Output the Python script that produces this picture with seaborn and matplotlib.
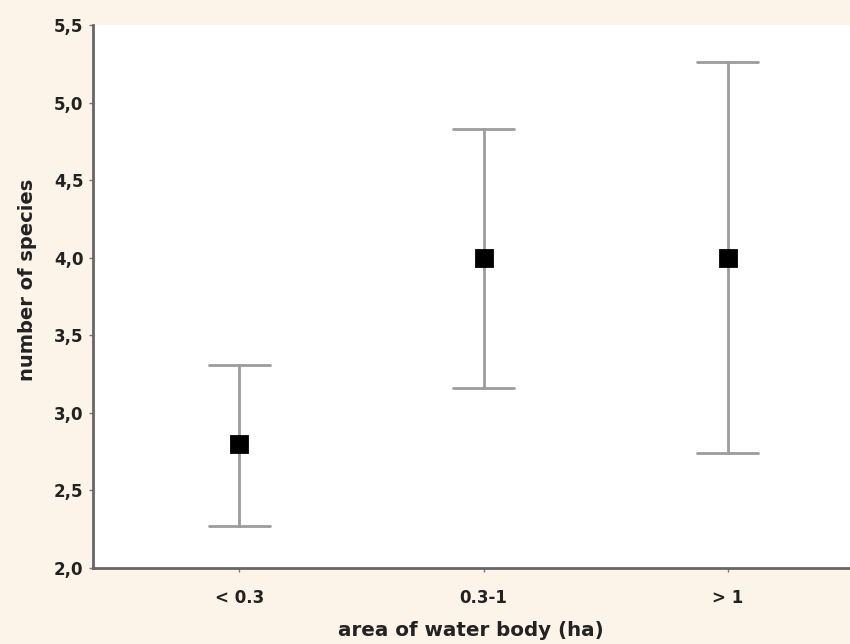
import matplotlib
matplotlib.use("Agg")
import matplotlib.pyplot as plt
import seaborn as sns
import pandas as pd

categories = ["< 0.3", "0.3-1", "> 1"]
means = [2.80, 4.00, 4.00]
lower = [2.27, 3.16, 2.74]
upper = [3.31, 4.83, 5.26]
yticks = [2.0, 2.5, 3.0, 3.5, 4.0, 4.5, 5.0, 5.5]
ytick_labels = ["2,0", "2,5", "3,0", "3,5", "4,0", "4,5", "5,0", "5,5"]

rows = []
for c, lo, m, hi in zip(categories, lower, means, upper):
    for v in (lo, m, hi):
        rows.append({"area": c, "species": v})
df = pd.DataFrame(rows)

sns.set_style("white")
plt.rcParams["font.family"] = ["DejaVu Sans"]

bg = "#fcf4e9"
fig = plt.figure(figsize=(8.5, 6.44), dpi=100, facecolor=bg)
ax = fig.add_axes([0.109, 0.118, 0.891, 0.843])
ax.set_facecolor("white")

sns.pointplot(data=df, x="area", y="species", order=categories,
              estimator="median", errorbar=lambda x: (x.min(), x.max()),
              linestyle="none", marker="s", markersize=11.5, color="black",
              capsize=0.25, err_kws={"color": "#9c9c9c", "linewidth": 2.0},
              ax=ax)

for ln in ax.lines:
    if ln.get_marker() == "s":
        ln.set_zorder(10)
    else:
        ln.set_zorder(3)

ax.set_xlim(-0.6, 2.5)
ax.set_ylim(2.0, 5.5)
ax.set_yticks(yticks)
ax.set_yticklabels(ytick_labels, fontsize=12, fontweight="bold", color="#222222")
for lab in ax.get_xticklabels():
    lab.set_fontsize(12)
    lab.set_fontweight("bold")
    lab.set_color("#222222")
ax.tick_params(axis="x", pad=12)
ax.tick_params(axis="both", direction="out", length=3, width=1, color="#777777",
               left=True, bottom=True)
for s in ["top", "right"]:
    ax.spines[s].set_visible(False)
for s in ["left", "bottom"]:
    ax.spines[s].set_color("#666666")
    ax.spines[s].set_linewidth(2)
ax.set_xlabel("area of water body (ha)", fontsize=14.3, fontweight="bold",
              color="#222222", labelpad=10)
ax.set_ylabel("number of species", fontsize=14, fontweight="bold", color="#222222")
ax.yaxis.set_label_coords(-0.074, 0.53)

fig.savefig("out.png", dpi=100, facecolor=bg)
